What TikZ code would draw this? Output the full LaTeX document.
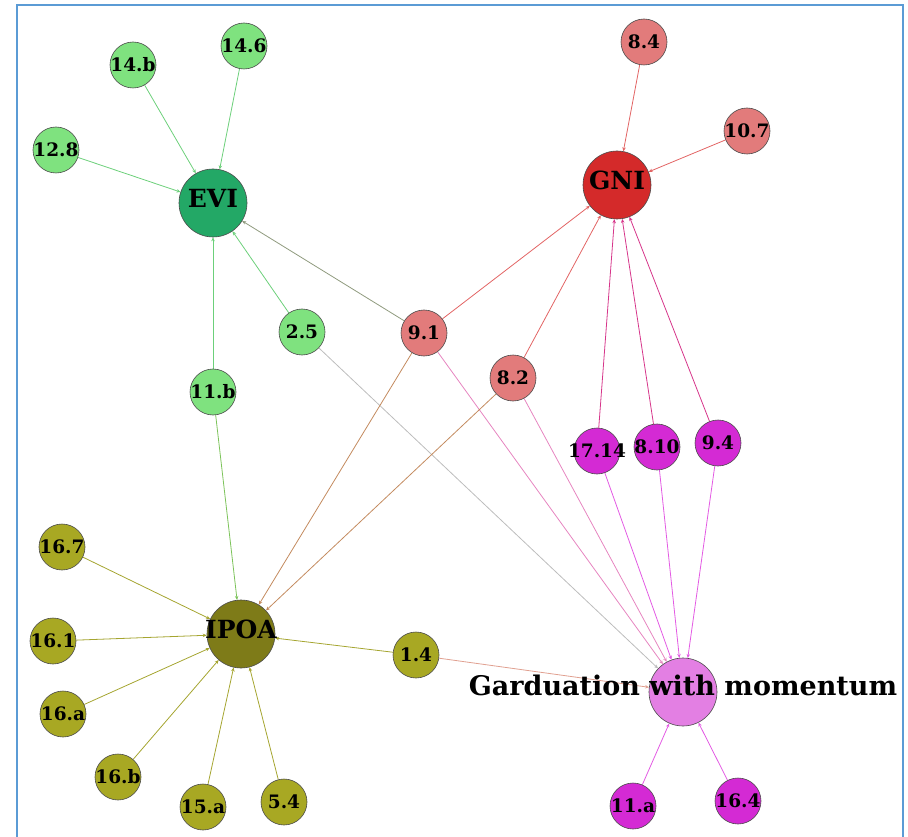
\documentclass[tikz,border=0pt]{standalone}
\usepackage{fontspec}
\setmainfont{DejaVu Serif}
\usetikzlibrary{arrows.meta,backgrounds}

% node fills
\definecolor{lgreen}{HTML}{7FE27F}
\definecolor{dgreen}{HTML}{23A866}
\definecolor{salmon}{HTML}{E27B7B}
\definecolor{gnired}{HTML}{D42A2A}
\definecolor{magen}{HTML}{D42AD4}
\definecolor{lmagen}{HTML}{E37FE3}
\definecolor{lolive}{HTML}{A8A823}
\definecolor{dolive}{HTML}{7E7B18}
\definecolor{nodeedge}{HTML}{4A4A4A}
\definecolor{frame}{HTML}{5B9BD5}
% link colours
\definecolor{eGreen}{HTML}{6CD07A}
\definecolor{eGray}{HTML}{8F9A7E}
\definecolor{eRed}{HTML}{E26464}
\definecolor{eCrimson}{HTML}{D6358A}
\definecolor{eMag}{HTML}{E35AE3}
\definecolor{ePink}{HTML}{E685C0}
\definecolor{eSilver}{HTML}{BDBDBD}
\definecolor{ePeach}{HTML}{E0A090}
\definecolor{eBrown}{HTML}{C38A5E}
\definecolor{eOlive}{HTML}{A5A530}
\definecolor{eLime}{HTML}{7CC35A}

\newcommand\dotfont{\bfseries\fontsize{18.5}{18.5}\selectfont}
\newcommand\hubfont{\bfseries\fontsize{25}{25}\selectfont}
\newcommand\gradfont{\bfseries\fontsize{27}{27}\selectfont}

\tikzset{
  dot/.style={circle, draw=nodeedge, line width=0.6pt, minimum size=46pt, inner sep=0pt, fill=#1},
  hub/.style={circle, draw=nodeedge, line width=0.6pt, minimum size=68pt, inner sep=0pt, fill=#1},
  tag/.style={label={[font=\dotfont, inner sep=0pt]center:#1}},
  hubtag/.style={label={[font=\hubfont, inner sep=0pt, yshift=5pt]center:#1}},
  gradtag/.style={label={[font=\gradfont, inner sep=0pt, yshift=7pt]center:#1}},
  link/.style={line width=0.8pt, draw=#1, -{Stealth[length=4pt,width=3.5pt]}},
}

\begin{document}
\begin{tikzpicture}[x=1pt,y=-1pt]
\useasboundingbox (0,0) rectangle (908,837);
\draw[frame, line width=2pt] (17,845) -- (17,5) -- (903,5) -- (903,845);

% EVI cluster
\node[hub=dgreen, hubtag=EVI] (evi) at (213,203) {};
\node[dot=lgreen, tag=14.b] (n14b) at (133,65) {};
\node[dot=lgreen, tag=14.6] (n146) at (244,46) {};
\node[dot=lgreen, tag=12.8] (n128) at (56,150) {};
\node[dot=lgreen, tag=2.5] (n25) at (302,332) {};
\node[dot=lgreen, tag=11.b] (n11b) at (213,392) {};

% GNI cluster
\node[hub=gnired, hubtag=GNI] (gni) at (617,185) {};
\node[dot=salmon, tag=8.4] (n84) at (644,42) {};
\node[dot=salmon, tag=10.7] (n107) at (747,131) {};
\node[dot=salmon, tag=9.1] (n91) at (424,333) {};
\node[dot=salmon, tag=8.2] (n82) at (513,378) {};

% Graduation cluster
\node[hub=lmagen, gradtag={Garduation with momentum}] (grad) at (683,692) {};
\node[dot=magen, tag=17.14] (n1714) at (597,451) {};
\node[dot=magen, tag=8.10] (n810) at (657,447) {};
\node[dot=magen, tag=9.4] (n94) at (718,443) {};
\node[dot=magen, tag=11.a] (n11a) at (633,806) {};
\node[dot=magen, tag=16.4] (n164) at (738,801) {};

% IPOA cluster
\node[hub=dolive, hubtag=IPOA] (ipoa) at (241,634) {};
\node[dot=lolive, tag=16.7] (n167) at (62,547) {};
\node[dot=lolive, tag=16.1] (n161) at (53,641) {};
\node[dot=lolive, tag=16.a] (n16a) at (63,714) {};
\node[dot=lolive, tag=16.b] (n16b) at (118,777) {};
\node[dot=lolive, tag=15.a] (n15a) at (203,807) {};
\node[dot=lolive, tag=5.4] (n54) at (284,802) {};
\node[dot=lolive, tag=1.4] (n14) at (416,655) {};

\begin{pgfonlayer}{background}
  % into EVI
  \draw[link=eGreen] (n14b) -- (evi);
  \draw[link=eGreen] (n146) -- (evi);
  \draw[link=eGreen] (n128) -- (evi);
  \draw[link=eGreen] (n25) -- (evi);
  \draw[link=eGreen] (n11b) -- (evi);
  \draw[link=eGray] (n91) -- (evi);
  % into GNI
  \draw[link=eRed] (n84) -- (gni);
  \draw[link=eRed] (n107) -- (gni);
  \draw[link=eRed] (n91) -- (gni);
  \draw[link=eRed] (n82) -- (gni);
  \draw[link=eCrimson] (n1714) -- (gni);
  \draw[link=eCrimson] (n810) -- (gni);
  \draw[link=eCrimson] (n94) -- (gni);
  % into the graduation hub
  \draw[link=eMag] (n1714) -- (grad);
  \draw[link=eMag] (n810) -- (grad);
  \draw[link=eMag] (n94) -- (grad);
  \draw[link=eMag] (n11a) -- (grad);
  \draw[link=eMag] (n164) -- (grad);
  \draw[link=ePink] (n91) -- (grad);
  \draw[link=ePink] (n82) -- (grad);
  \draw[link=eSilver] (n25) -- (grad);
  \draw[link=ePeach] (n14) -- (grad);
  % into IPOA
  \draw[link=eBrown] (n91) -- (ipoa);
  \draw[link=eBrown] (n82) -- (ipoa);
  \draw[link=eLime] (n11b) -- (ipoa);
  \draw[link=eOlive] (n167) -- (ipoa);
  \draw[link=eOlive] (n161) -- (ipoa);
  \draw[link=eOlive] (n16a) -- (ipoa);
  \draw[link=eOlive] (n16b) -- (ipoa);
  \draw[link=eOlive] (n15a) -- (ipoa);
  \draw[link=eOlive] (n54) -- (ipoa);
  \draw[link=eOlive] (n14) -- (ipoa);
\end{pgfonlayer}
\end{tikzpicture}
\end{document}
